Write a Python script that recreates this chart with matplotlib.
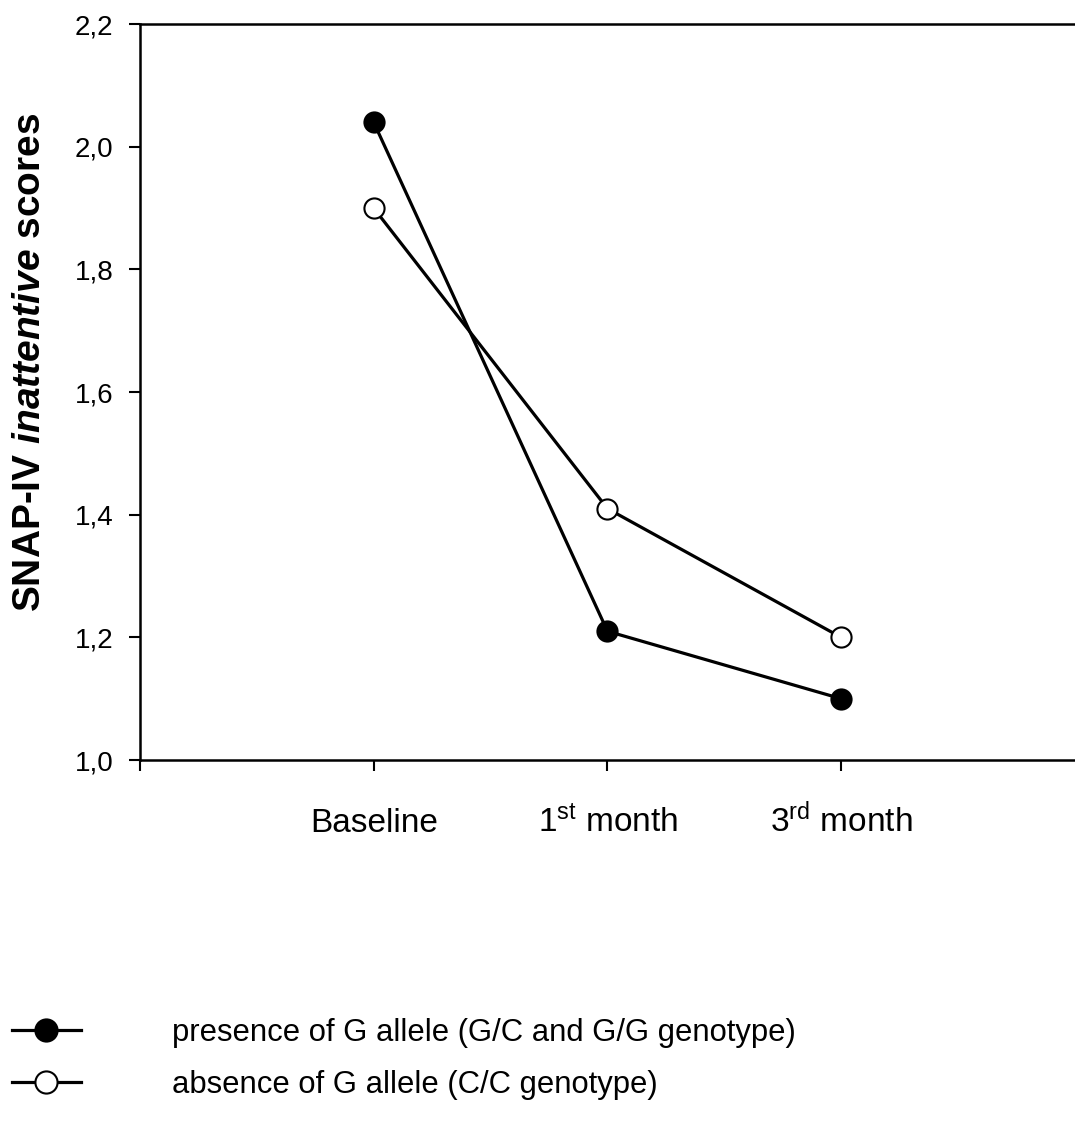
import matplotlib
matplotlib.use('Agg')
import matplotlib.pyplot as plt
from matplotlib.ticker import FuncFormatter

plt.rcParams['font.family'] = ['Liberation Sans', 'DejaVu Sans']
plt.rcParams['mathtext.fontset'] = 'custom'
plt.rcParams['mathtext.rm'] = 'Liberation Sans'
plt.rcParams['mathtext.it'] = 'Liberation Sans:italic'
plt.rcParams['mathtext.bf'] = 'Liberation Sans:bold'
plt.rcParams['mathtext.bfit'] = 'Liberation Sans:bold:italic'

# data
timepoints = ['Baseline', r'1$^{\mathrm{st}}$ month', r'3$^{\mathrm{rd}}$ month']
g_present = [2.04, 1.21, 1.10]
g_absent = [1.90, 1.41, 1.20]
yticks = [1.0, 1.2, 1.4, 1.6, 1.8, 2.0, 2.2]
lbl_present = 'presence of G allele (G/C and G/G genotype)'
lbl_absent = 'absence of G allele (C/C genotype)'

fig = plt.figure(figsize=(10.75, 11.26), dpi=100)
ax = fig.add_axes([0.1302, 0.325, 0.8698, 0.6535])

x = [1, 2, 3]
ax.plot(x, g_present, '-o', color='black', lw=2.3, ms=14.5,
        mfc='black', mec='black', mew=1.5, label=lbl_present, zorder=3)
ax.plot(x, g_absent, '-o', color='black', lw=2.3, ms=14.5,
        mfc='white', mec='black', mew=1.5, label=lbl_absent, zorder=3)

ax.set_xlim(0, 4)
ax.set_ylim(1.0, 2.2)
ax.set_yticks(yticks)
ax.yaxis.set_major_formatter(FuncFormatter(lambda v, p: ('%.1f' % v).replace('.', ',')))
ax.set_xticks([0] + x)
ax.set_xticklabels([''] + timepoints, fontsize=24)
for t in ax.get_xticklabels():
    t.set_verticalalignment('baseline')
ax.tick_params(axis='y', labelsize=20, direction='out', length=8, width=1.5, pad=11)
ax.tick_params(axis='x', direction='out', length=8, width=1.5, pad=44)

for s in ['left', 'top', 'bottom']:
    ax.spines[s].set_linewidth(1.8)
ax.spines['right'].set_visible(False)

ax.set_ylabel(r'SNAP-IV $\mathbfit{inattentive}$ scores', fontsize=28, fontweight='bold')
ax.yaxis.set_label_coords(-0.098, 0.541)

fig.legend(loc='upper left', bbox_to_anchor=(0.0, 0.107), frameon=False,
           fontsize=22.3, handlelength=2.2, handletextpad=2.95, labelspacing=0.72,
           markerscale=1.1, borderaxespad=0)

fig.savefig('out.png', dpi=100)
